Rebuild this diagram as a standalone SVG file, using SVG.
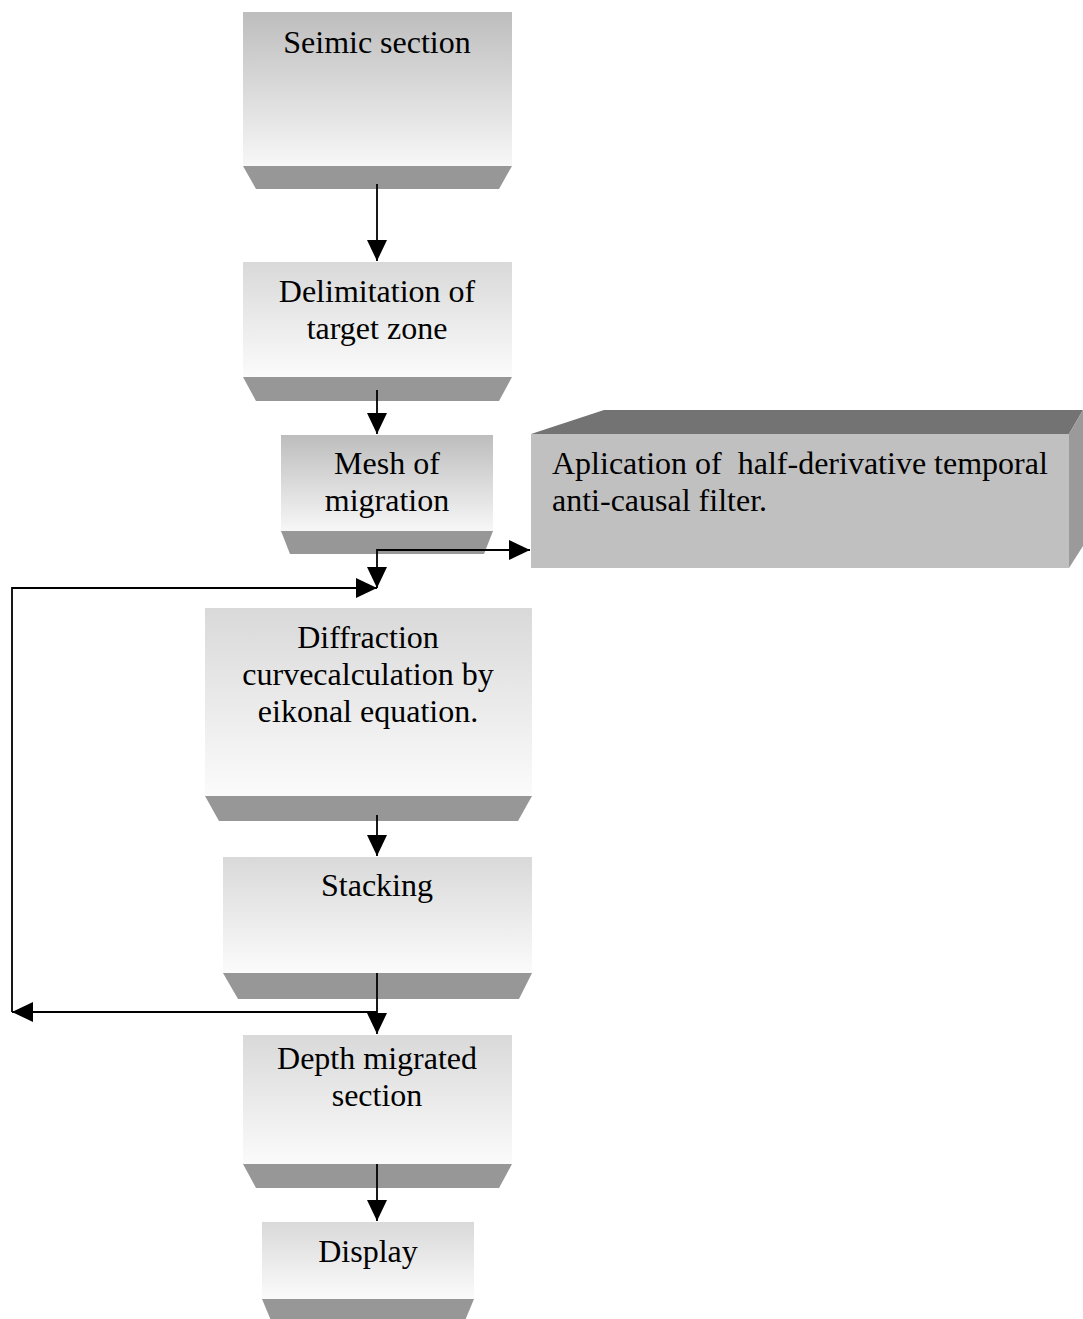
<svg xmlns="http://www.w3.org/2000/svg" width="1083" height="1319" viewBox="0 0 1083 1319">
<style>
  text { font-family: "Liberation Serif", "Times New Roman", serif; font-size: 32px; fill: #000; white-space: pre; }
  .c { text-anchor: middle; }
  .trap { fill: #979797; }
  .dark { fill: url(#gDark); }
  .light { fill: url(#gLight); }
  .conn { fill: none; stroke: #000; stroke-width: 1.8; }
</style>
<defs>
  <linearGradient id="gDark" x1="0" y1="0" x2="0" y2="1">
    <stop offset="0" stop-color="#bdbdbd"/>
    <stop offset="1" stop-color="#f7f7f7"/>
  </linearGradient>
  <linearGradient id="gLight" x1="0" y1="0" x2="0" y2="1">
    <stop offset="0" stop-color="#d9d9d9"/>
    <stop offset="1" stop-color="#fbfbfb"/>
  </linearGradient>
  <marker id="arr" viewBox="0 0 21 20" refX="21" refY="10" markerWidth="21" markerHeight="20" markerUnits="userSpaceOnUse" orient="auto">
    <path d="M0,0 L21,10 L0,20 z" fill="#000"/>
  </marker>
</defs>

<g id="n-seimic">
  <rect class="dark" x="243" y="12" width="269" height="154"/>
  <polygon class="trap" points="243,166 512,166 499,189 256,189"/>
  <text class="c" x="377" y="53">Seimic section</text>
</g>

<g id="n-delimitation">
  <rect class="light" x="243" y="262" width="269" height="115"/>
  <polygon class="trap" points="243,377 512,377 499,401 256,401"/>
  <text class="c" x="377" y="302">Delimitation of</text>
  <text class="c" x="377" y="339">target zone</text>
</g>

<g id="n-mesh">
  <rect class="dark" x="281" y="435" width="212" height="96"/>
  <polygon class="trap" points="281,531 493,531 484,554 290,554"/>
  <text class="c" x="387" y="474">Mesh of</text>
  <text class="c" x="387" y="511">migration</text>
</g>

<g id="n-filter">
  <polygon fill="#737373" points="531,434 604,410 1083,410 1069,434"/>
  <polygon fill="#9a9a9a" points="1069,434 1083,410 1083,546 1069,568"/>
  <rect fill="#c0c0c0" x="531" y="434" width="538" height="134"/>
  <text x="552" y="474" xml:space="preserve">Aplication of  half-derivative temporal</text>
  <text x="552" y="511">anti-causal filter.</text>
</g>

<g id="n-diffraction">
  <rect class="light" x="205" y="608" width="327" height="188"/>
  <polygon class="trap" points="205,796 532,796 518,821 219,821"/>
  <text class="c" x="368" y="648">Diffraction</text>
  <text class="c" x="368" y="685">curvecalculation by</text>
  <text class="c" x="368" y="722">eikonal equation.</text>
</g>

<g id="n-stacking">
  <rect class="light" x="223" y="857" width="309" height="116"/>
  <polygon class="trap" points="223,973 532,973 519,999 238,999"/>
  <text class="c" x="377" y="896">Stacking</text>
</g>

<g id="n-depth">
  <rect class="light" x="243" y="1035" width="269" height="129"/>
  <polygon class="trap" points="243,1164 512,1164 499,1188 256,1188"/>
  <text class="c" x="377" y="1069">Depth migrated</text>
  <text class="c" x="377" y="1106">section</text>
</g>

<g id="n-display">
  <rect class="light" x="262" y="1222" width="212" height="77"/>
  <polygon class="trap" points="262,1299 474,1299 464,1323 272,1323"/>
  <text class="c" x="368" y="1262">Display</text>
</g>

<g id="connectors">
  <path class="conn" d="M377,184 V261" marker-end="url(#arr)"/>
  <path class="conn" d="M377,390 V434" marker-end="url(#arr)"/>
  <path class="conn" d="M377,550 H530" marker-end="url(#arr)"/>
  <path class="conn" d="M377,549 V588" marker-end="url(#arr)"/>
  <path class="conn" d="M12,1012 V588 H377" marker-end="url(#arr)"/>
  <path class="conn" d="M377,815 V856" marker-end="url(#arr)"/>
  <path class="conn" d="M377,973 V1034" marker-end="url(#arr)"/>
  <path class="conn" d="M377,1012 H12" marker-end="url(#arr)"/>
  <path class="conn" d="M377,1164 V1221" marker-end="url(#arr)"/>
</g>
</svg>
